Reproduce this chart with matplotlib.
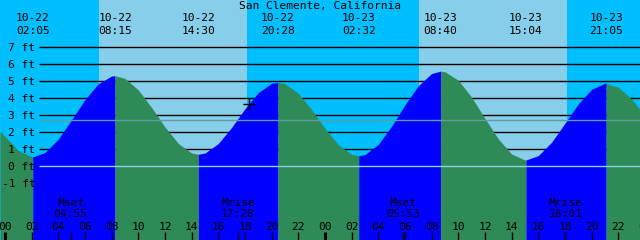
import numpy as np
import matplotlib
matplotlib.use("Agg")
import matplotlib.pyplot as plt

# ---------------- data ----------------
title = "San Clemente, California"

tide_dates = ["10-22", "10-22", "10-22", "10-22", "10-23", "10-23", "10-23", "10-23"]
tide_times = ["02:05", "08:15", "14:30", "20:28", "02:32", "08:40", "15:04", "21:05"]
tide_days = [0, 0, 0, 0, 1, 1, 1, 1]

moon_names = ["Mset", "Mrise", "Mset", "Mrise"]
moon_times = ["04:55", "17:28", "05:53", "18:01"]
moon_days = [0, 0, 1, 1]

sunrise_times = ["07:03", "07:03"]
sunset_times = ["18:09", "18:09"]
sun_days = [0, 1]

# tide height curve (hours since 10-22 00:00, feet)
curve_hours = [-0.375, 0, 1, 2, 2.083, 3, 4, 5, 6, 7, 8, 8.25, 9, 10, 11, 12, 13, 14, 14.5,
               15, 16, 17, 18, 19, 20, 20.467, 21, 22, 23, 24, 25, 26, 26.533, 27, 28, 29,
               30, 31, 32, 32.667, 33, 34, 35, 36, 37, 38, 39, 39.067, 40, 41, 42, 43, 44,
               45, 45.083, 46, 47, 47.625]
curve_ft = [2.10, 1.75, 0.93, 0.56, 0.55, 0.81, 1.60, 2.74, 3.93, 4.86, 5.31, 5.33, 5.17,
            4.49, 3.45, 2.31, 1.34, 0.78, 0.71, 0.78, 1.34, 2.29, 3.39, 4.34, 4.88, 4.94,
            4.86, 4.29, 3.33, 2.23, 1.27, 0.70, 0.62, 0.69, 1.29, 2.36, 3.62, 4.74, 5.46,
            5.60, 5.56, 5.06, 4.06, 2.81, 1.61, 0.72, 0.37, 0.37, 0.63, 1.42, 2.54, 3.67,
            4.53, 4.88, 4.88, 4.65, 3.95, 3.34]

level_ticks = [-1, 0, 1, 2, 3, 4, 5, 6, 7]
level_labels = ["-1 ft", "0 ft", "1 ft", "2 ft", "3 ft", "4 ft", "5 ft", "6 ft", "7 ft"]
hour_ticks = list(range(0, 50, 2))
hour_labels = ["%02d" % (h % 24) for h in hour_ticks]
msl_ft = 2.71
now_hour = 18.3

# ---------------- style ----------------
NIGHT = "#00BFFF"
DAY = "#87CEEB"
RISE = "#0000FF"
FALL = "#2E8B57"
MSL = "#5F9EA0"
DATUM = "#8FD0EA"

FONT = "DejaVu Sans Mono"
FS = 8.1

PX_PER_H = 13.3333
X0 = 5.0
FT0_PX = 166.3
PX_PER_FT = 17.0


def hx(xpx):
    return (xpx - X0) / PX_PER_H


def py(ypx):
    return (FT0_PX - ypx) / PX_PER_FT


def hrs(s, day):
    h, m = s.split(":")
    return day * 24 + int(h) + int(m) / 60.0


fig = plt.figure(figsize=(6.4, 2.4), dpi=100)
ax = fig.add_axes([0, 0, 1, 1])
ax.set_xlim(hx(0), hx(640))
ax.set_ylim(py(240), py(0))
ax.axis("off")
fig.patch.set_facecolor(NIGHT)
ax.add_patch(plt.Rectangle((hx(0), py(240)), hx(640) - hx(0), py(0) - py(240),
                           color=NIGHT, zorder=0, lw=0))

for sr, ss, d in zip(sunrise_times, sunset_times, sun_days):
    ax.axvspan(hrs(sr, d), hrs(ss, d), color=DAY, lw=0, zorder=0.5)

# grid lines
for lv in level_ticks:
    if lv > 0:
        ax.hlines(lv, hx(39), hx(640), color="black", lw=1.0, zorder=1)

# water fills: blue while rising, green while falling
t = np.array(curve_hours)
f = np.array(curve_ft)
ev_hours = [hrs(s, d) for s, d in zip(tide_times, tide_days)]
idx = [0] + [int(np.argmin(np.abs(t - h))) for h in ev_hours] + [len(t) - 1]
for a, b in zip(idx[:-1], idx[1:]):
    rising = f[b] > f[a]
    ax.fill_between(t[a:b + 1], f[a:b + 1], py(240), color=RISE if rising else FALL,
                    lw=0, antialiased=False, zorder=2)

ax.hlines(msl_ft, hx(39), hx(640), color=MSL, lw=1.0, zorder=3)
ax.hlines(0, hx(39), hx(640), color=DATUM, lw=1.0, zorder=3)

# y labels
for lv, lb in zip(level_ticks, level_labels):
    ax.text(hx(35.5), lv, lb, ha="right", va="center_baseline", fontsize=FS,
            family=FONT, color="black", zorder=5)

# title and tide event labels
ax.text(hx(320), py(5.0), title, ha="center", va="center_baseline", fontsize=FS,
        family=FONT, zorder=5)
for dt, tm, h in zip(tide_dates, tide_times, ev_hours):
    ax.text(h, py(17.0), dt, ha="center", va="center_baseline", fontsize=FS,
            family=FONT, zorder=5)
    ax.text(h, py(29.5), tm, ha="center", va="center_baseline", fontsize=FS,
            family=FONT, zorder=5)

# hour ticks and labels
for h, lb in zip(hour_ticks, hour_labels):
    lw = 2.2 if h % 24 == 0 else 1.0
    ax.vlines(h, py(240), py(232), color="black", lw=lw, zorder=5)
    ax.text(h, py(225.5), lb, ha="center", va="center_baseline", fontsize=FS,
            family=FONT, zorder=5, clip_on=False)

# moon events
for nm, tm, d in zip(moon_names, moon_times, moon_days):
    h = hrs(tm, d)
    ax.vlines(h, py(240), py(232), color="black", lw=1.0, zorder=5)
    ax.text(h, py(201.5), nm, ha="center", va="center_baseline", fontsize=FS,
            family=FONT, zorder=5)
    ax.text(h, py(213), tm, ha="center", va="center_baseline", fontsize=FS,
            family=FONT, zorder=5)

# current-time marker
ax.plot([now_hour], [np.interp(now_hour, t, f)], marker="+", ms=8, mew=1.0,
        color="black", zorder=6)

fig.savefig("out.png", dpi=100, facecolor=NIGHT)
